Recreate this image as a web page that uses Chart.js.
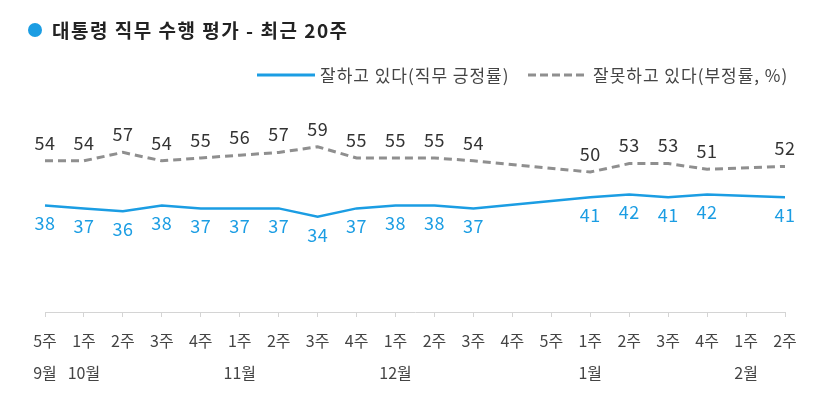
<!DOCTYPE html>
<html>
<head>
<meta charset="utf-8">
<script src="https://cdn.jsdelivr.net/npm/chart.js@4"></script>
<style>
  html, body { margin: 0; padding: 0; background: #fff; }
  #wrap { width: 826px; height: 413px; position: relative; }
</style>
</head>
<body>
<div id="wrap"><canvas id="chart" width="826" height="413"></canvas></div>
<script>
// weekly labels + month row
const weeks  = ["5주","1주","2주","3주","4주","1주","2주","3주","4주","1주","2주","3주","4주","5주","1주","2주","3주","4주","1주","2주"];
const months = ["9월","10월","","","","11월","","","","12월","","","","","1월","","","","2월",""];

// % values, null = no survey that week
const approve    = [38,37,36,38,37,37,37,34,37,38,38,37,null,null,41,42,41,42,null,41];
const disapprove = [54,54,57,54,55,56,57,59,55,55,55,54,null,null,50,53,53,51,null,52];

const titleText = "대통령 직무 수행 평가 - 최근 20주";
const seriesNames = ["잘하고 있다(직무 긍정률)", "잘못하고 있다(부정률, %)"];

const BLUE = "#1b9de3";
const GRAY = "#8f8f8f";
const FONT = '"Noto Sans CJK KR", "Noto Sans", sans-serif';

// title, legend and value labels
const extras = {
    id: "extras",
    afterDatasetsDraw(chart) {
        const ctx = chart.ctx;
        ctx.save();

        // title
        ctx.fillStyle = BLUE;
        ctx.beginPath();
        ctx.arc(35, 30, 7, 0, Math.PI * 2);
        ctx.fill();
        ctx.fillStyle = "#222";
        ctx.letterSpacing = "1.5px";
        ctx.font = "bold 19px " + FONT;
        ctx.textBaseline = "middle";
        ctx.textAlign = "left";
        ctx.fillText(titleText, 52, 31);

        // legend
        ctx.letterSpacing = "1px";
        ctx.font = "17px " + FONT;
        ctx.fillStyle = "#444";
        ctx.lineWidth = 3;
        ctx.strokeStyle = BLUE;
        ctx.beginPath(); ctx.moveTo(257, 75); ctx.lineTo(315, 75); ctx.stroke();
        ctx.fillText(seriesNames[0], 320, 76);
        ctx.strokeStyle = GRAY;
        ctx.setLineDash([8, 4]);
        ctx.beginPath(); ctx.moveTo(528, 75); ctx.lineTo(588, 75); ctx.stroke();
        ctx.setLineDash([]);
        ctx.fillText(seriesNames[1], 593, 76);

        // value labels
        ctx.letterSpacing = "0.5px";
        ctx.font = "18px " + FONT;
        ctx.textAlign = "center";
        chart.data.datasets.forEach((ds, i) => {
            const meta = chart.getDatasetMeta(i);
            ctx.fillStyle = i === 0 ? BLUE : "#333";
            meta.data.forEach((pt, j) => {
                const v = ds.data[j];
                if (v == null) return;
                const dy = i === 0 ? 18 : -18;
                ctx.fillText(String(v), pt.x, pt.y + dy);
            });
        });
        ctx.restore();
    }
};

new Chart(document.getElementById("chart"), {
    type: "line",
    data: {
        labels: weeks.map((w, i) => [w, months[i]]),
        datasets: [
            {
                label: seriesNames[0],
                data: approve,
                borderColor: BLUE,
                borderWidth: 2.5,
                pointRadius: 0,
                tension: 0,
                spanGaps: true
            },
            {
                label: seriesNames[1],
                data: disapprove,
                borderColor: GRAY,
                borderWidth: 3,
                borderDash: [8, 5],
                pointRadius: 0,
                tension: 0,
                spanGaps: true
            }
        ]
    },
    options: {
        responsive: false,
        animation: false,
        layout: { padding: { top: 32, left: 45, right: 41, bottom: 0 } },
        plugins: {
            legend: { display: false },
            tooltip: { enabled: false }
        },
        scales: {
            x: {
                offset: false,
                grid: { drawOnChartArea: false, drawTicks: true, tickLength: 5, color: "#d4d4d4" },
                border: { display: true, color: "#d4d4d4" },
                ticks: {
                    autoSkip: false,
                    maxRotation: 0,
                    padding: 8,
                    color: "#444",
                    font: { family: FONT, size: 16, lineHeight: 2.0 }
                },
                afterFit(scale) { scale.height = 101; }
            },
            y: {
                display: false,
                min: 0,
                max: 100
            }
        }
    },
    plugins: [extras]
});
</script>
</body>
</html>
